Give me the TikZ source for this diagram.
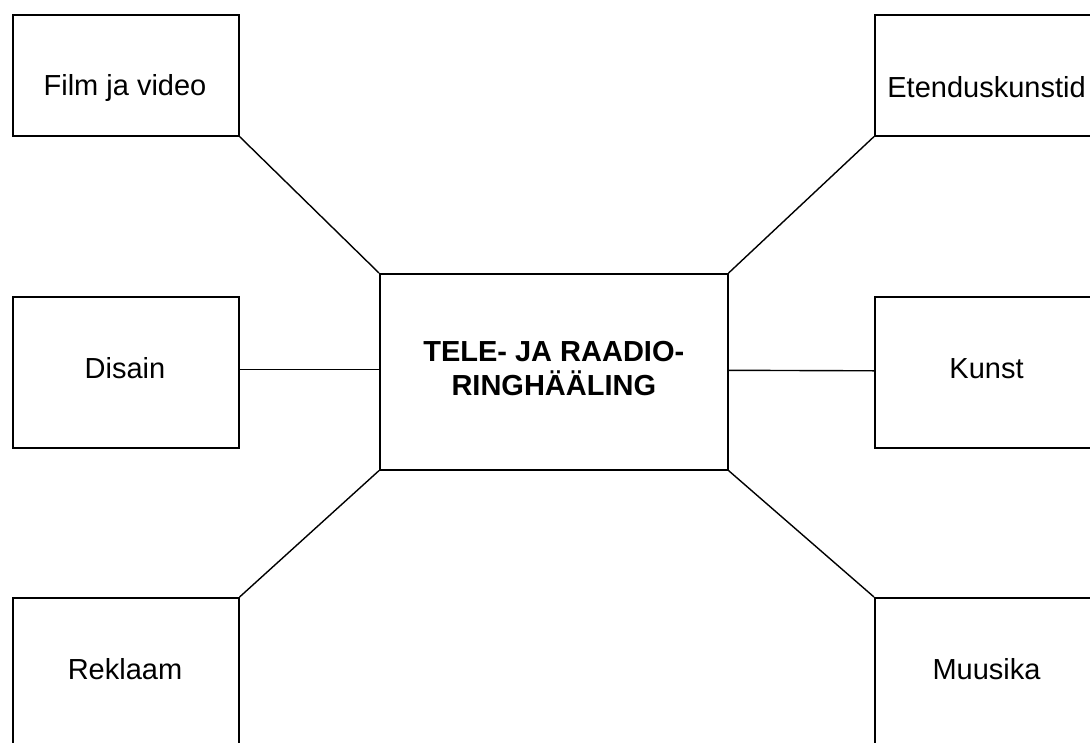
\documentclass[tikz,border=0pt]{standalone}
\usepackage{fontspec}
\setmainfont{Liberation Sans}
\begin{document}
\begin{tikzpicture}[x=1pt,y=-1pt,
  box/.style={draw=black,line width=1.6pt,rectangle,minimum width=226pt,inner sep=0pt},
  lbl/.style={anchor=base,font=\fontsize{29}{34}\selectfont,inner sep=0pt},
  conn/.style={draw=black,line width=1.4pt}]
\useasboundingbox (0,0) rectangle (1090,742);
\clip (0,0) rectangle (1090,742);
% boxes
\node[box,minimum height=121pt,anchor=north west] (film) at (12,14) {};
\node[box,minimum height=121pt,anchor=north west] (eten) at (874,14) {};
\node[box,minimum height=151pt,anchor=north west] (disain) at (12,296) {};
\node[box,minimum height=151pt,anchor=north west] (kunst) at (874,296) {};
\node[box,minimum height=170pt,anchor=north west] (reklaam) at (12,597) {};
\node[box,minimum height=170pt,anchor=north west] (muusika) at (874,597) {};
\node[box,minimum width=348pt,minimum height=196pt,anchor=north west,
      align=center,font=\fontsize{29}{34}\selectfont\bfseries,text depth=6pt] (center) at (379,273)
      {TELE- JA RAADIO-\\RINGHÄÄLING};
% labels
\node[lbl] (tfilm) at (125,95.5) {Film ja video};
\node[lbl] (teten) at (986.5,97) {Etenduskunstid};
\node[lbl] (tdisain) at (125,378) {Disain};
\node[lbl] (tkunst) at (986.5,378) {Kunst};
\node[lbl] (treklaam) at (125,679) {Reklaam};
\node[lbl] (tmuusika) at (986.5,679) {Muusika};
% connectors
\draw[conn] (film.south east) -- (center.north west);
\draw[conn] (eten.south west) -- (center.north east);
\draw[conn] ([yshift=3pt]disain.east) -- ([yshift=2.5pt]center.west);
\draw[conn] ([yshift=1.5pt]kunst.west) -- ([yshift=1.5pt]center.east);
\draw[conn] (reklaam.north east) -- (center.south west);
\draw[conn] (muusika.north west) -- (center.south east);
\end{tikzpicture}
\end{document}
